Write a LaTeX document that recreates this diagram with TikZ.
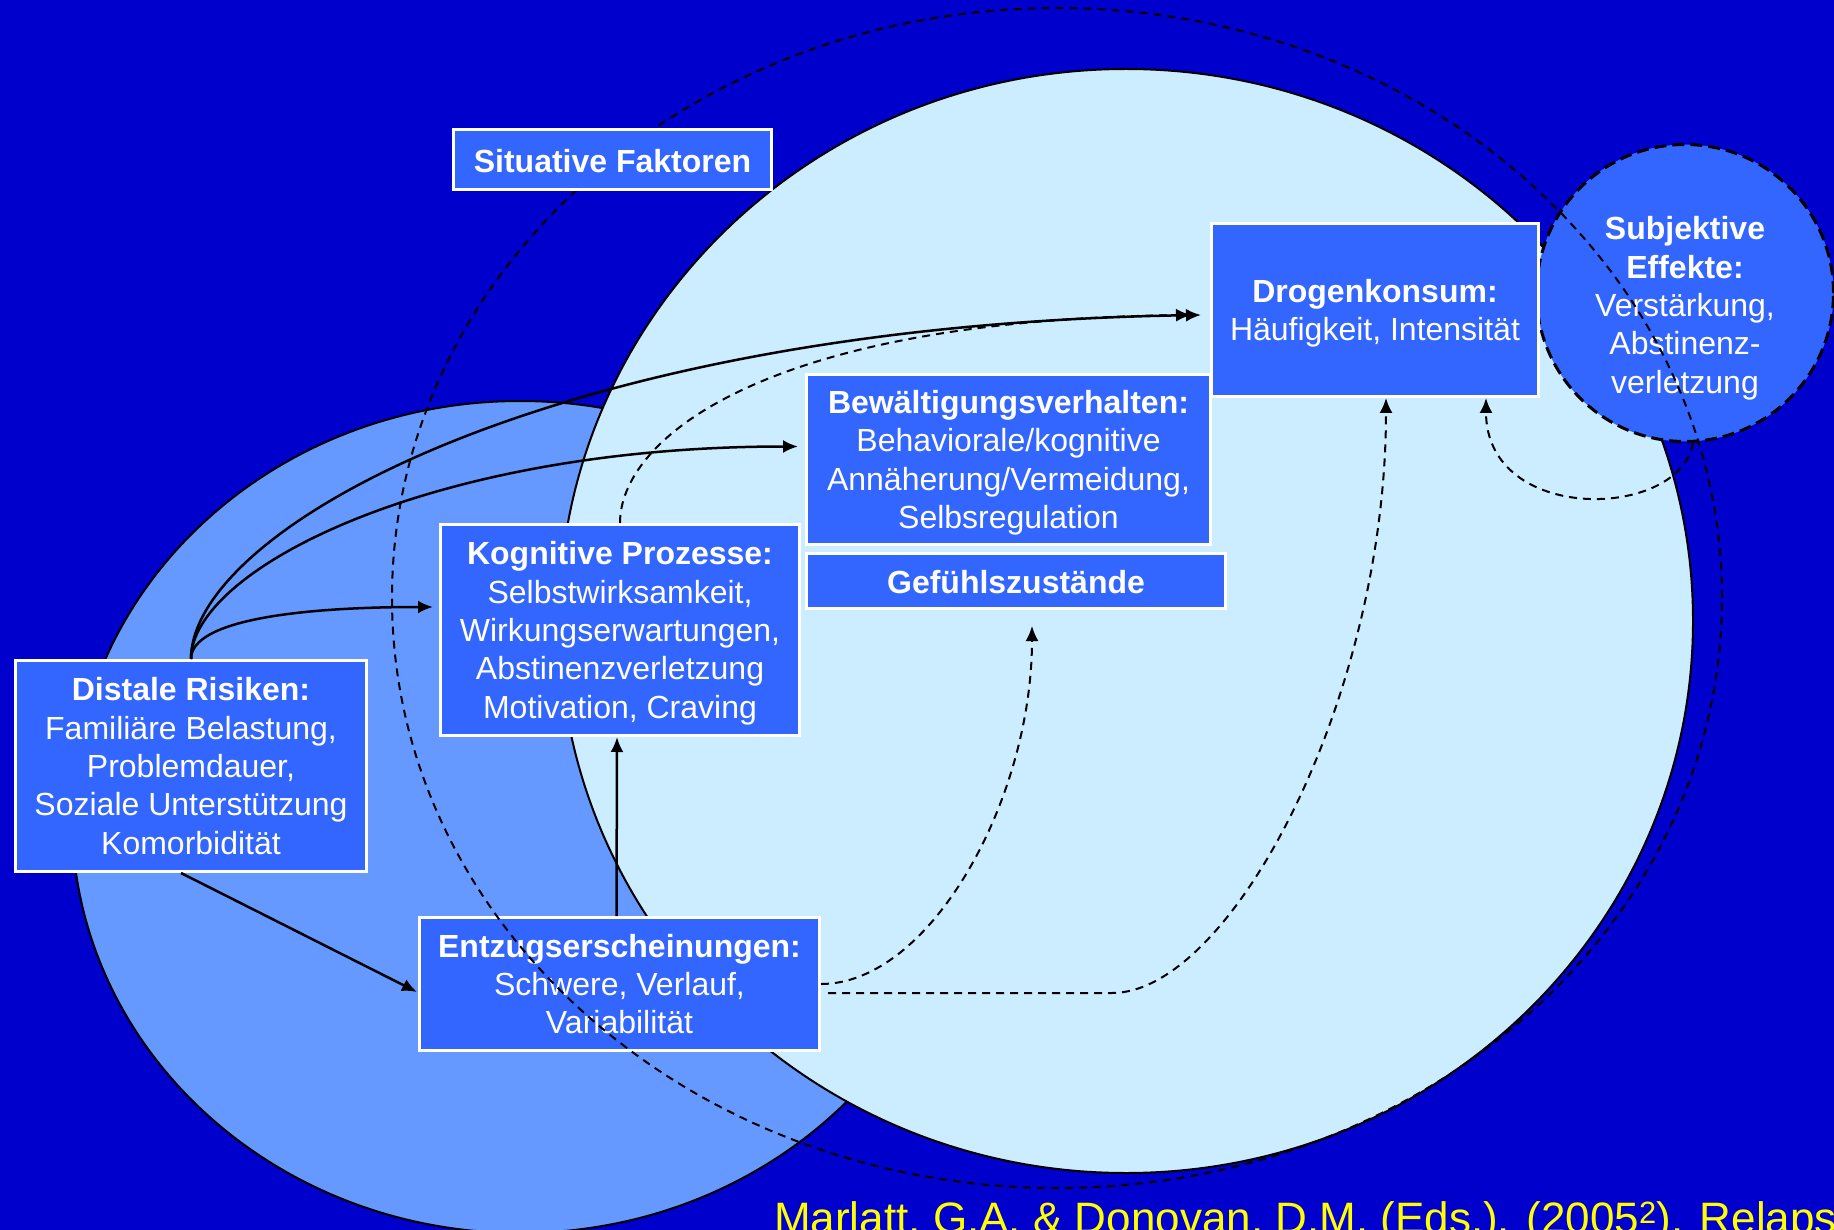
\documentclass[tikz,border=0pt]{standalone}
\usepackage{fontspec}
\setmainfont{Liberation Sans}
\usetikzlibrary{arrows.meta,positioning,calc}
\definecolor{slideblue}{RGB}{0,0,204}
\definecolor{paleblue}{RGB}{204,236,255}
\definecolor{midblue}{RGB}{102,153,255}
\definecolor{boxblue}{RGB}{51,102,255}
\definecolor{citeyellow}{RGB}{255,255,0}

\begin{document}
\begin{tikzpicture}[x=1pt, y=-1pt, >={Latex[length=15pt,width=13pt]},
    boxtext/.style={text=white, align=center, inner sep=0pt, text depth=0pt, font=\fontsize{32}{38.3}\selectfont, execute at begin node={\rule{0pt}{25.5pt}}},
    factor/.style={boxtext, rectangle, draw=white, line width=3pt, fill=boxblue},
    flow/.style={->, line width=2.5pt, black},
    feedback/.style={->, line width=2pt, black, dash pattern=on 8pt off 6pt}]

    \useasboundingbox (0,0) rectangle (1834,1230);
    \clip (0,0) rectangle (1834,1230);
    \fill[slideblue] (0,0) rectangle (1834,1230);

    % circles behind the boxes
    \draw[line width=2pt, fill=midblue] (520,817) ellipse [x radius=448pt, y radius=416pt];
    \draw[line width=2pt, fill=paleblue] (1126,621) ellipse [x radius=567pt, y radius=552pt];
    \node[circle, draw=black, line width=3pt, dash pattern=on 12pt off 6pt, fill=boxblue, minimum size=297pt, inner sep=0pt] (subj) at (1685,293) {};
    \node[boxtext] (subjtext) at (1685,305) {\textbf{Subjektive}\\\textbf{Effekte:}\\Verstärkung,\\Abstinenz-\\verletzung};

    \node[factor, minimum width=400pt, minimum height=133pt] (ent) at (619.5,984) {\textbf{Entzugserscheinungen:}\\Schwere, Verlauf,\\Variabilität};

    % situative faktoren
    \draw[line width=2pt, dash pattern=on 8pt off 6pt] (1057,598) ellipse [x radius=665pt, y radius=590pt];

    \node[factor, minimum width=318pt, minimum height=60pt] (sit) at (612.5,159.5) {\textbf{Situative Faktoren}};
    \node[factor, minimum width=327pt, minimum height=173pt] (drog) at (1375,310) {\textbf{Drogenkonsum:}\\Häufigkeit, Intensität};
    \node[factor, minimum width=404pt, minimum height=170pt] (bew) at (1008.5,459.5) {\textbf{Bewältigungsverhalten:}\\Behaviorale/kognitive\\Annäherung/Vermeidung,\\Selbsregulation};
    \node[factor, minimum width=419pt, minimum height=55pt, below=6pt of bew.south west, anchor=north west] (gef) {\textbf{Gefühlszustände}};
    \node[factor, minimum width=359pt, minimum height=211pt] (kog) at (620,630) {\textbf{Kognitive Prozesse:}\\Selbstwirksamkeit,\\Wirkungserwartungen,\\Abstinenzverletzung\\Motivation, Craving};
    \node[factor, minimum width=351pt, minimum height=211pt] (dist) at (191,766) {\textbf{Distale Risiken:}\\Familiäre Belastung,\\Problemdauer,\\Soziale Unterstützung\\Komorbidität};

    \draw[flow] (dist.north) .. controls +(0,-39) and +(-133,0) .. ($(kog.west)+(-6,-23)$);
    \draw[flow] (dist.north) .. controls +(0,-89) and +(-368,0) .. ($(bew.west)+(-7,-13)$);
    \draw[flow] (dist.north) .. controls +(0,-129) and +(-651,10) .. ($(drog.west)+(-9,5)$);
    \draw[flow] ($(dist.south)+(-10,0)$) -- ($(ent.west)+(-1,8)$);
    \draw[flow] ($(ent.north)+(-3,0)$) -- ($(kog.south)+(-3,0)$);

    \draw[feedback] (kog.north) .. controls +(0,-83) and +(-430,5) .. ($(drog.west)+(-19,5)$);
    \draw[feedback] (ent.east) .. controls +(109,0) and +(0,174) .. ($(gef.south)+(16,16)$);
    \draw[feedback] ($(ent.east)+(7,9)$) -- ++(284,0) .. controls +(118,0) and +(0,302) .. ($(drog.south)+(11,0)$);
    \draw[feedback] ($(subj.south)+(8,0)$) .. controls +(-13,77) and +(0,127) .. ($(drog.south)+(111,0)$);

    \node[anchor=base west, inner sep=0pt, text=citeyellow, font=\fontsize{44}{50}\selectfont] (cite) at (774,1233) {Marlatt, G.A. \& Donovan, D.M. (Eds.). (2005\textsuperscript{2}). Relapse Prevention};
\end{tikzpicture}
\end{document}
